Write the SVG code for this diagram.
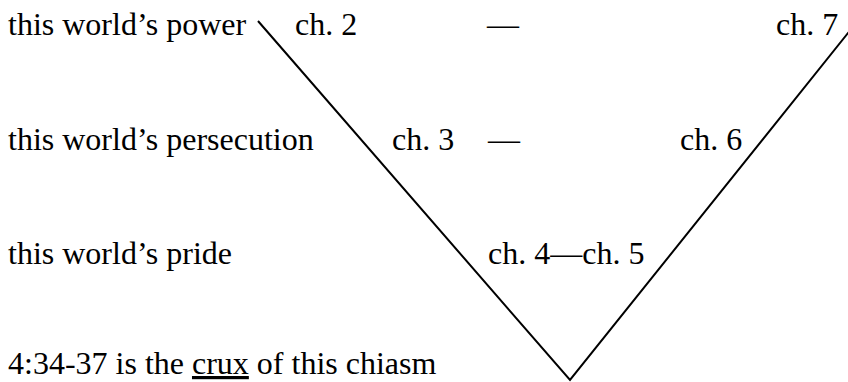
<svg xmlns="http://www.w3.org/2000/svg" width="848" height="382" viewBox="0 0 848 382">
<style>
text{font-family:"Liberation Serif","Times New Roman",serif;font-size:32px;fill:#000}
.ln{stroke:#000;stroke-width:2;fill:none}
</style>
<rect width="848" height="382" fill="#fff"/>
<g id="connectors">
<polyline class="ln" points="258,21 570,380 852,28"/>
</g>
<g id="label-power"><text x="8" y="35">this world’s power</text></g>
<g id="ch2"><text x="295" y="35">ch. 2</text></g>
<g id="dash1"><text x="487" y="35">—</text></g>
<g id="ch7"><text x="776" y="35">ch. 7</text></g>
<g id="label-persecution"><text x="8" y="150">this world’s persecution</text></g>
<g id="ch3"><text x="392" y="150">ch. 3</text></g>
<g id="dash2"><text x="488" y="150">—</text></g>
<g id="ch6"><text x="680" y="150">ch. 6</text></g>
<g id="label-pride"><text x="8" y="264">this world’s pride</text></g>
<g id="ch4-5"><text x="488" y="264">ch. 4—ch. 5</text></g>
<g id="note"><text x="8" y="374">4:34-37 is the <tspan text-decoration="underline">crux</tspan> of this chiasm</text></g>
</svg>
